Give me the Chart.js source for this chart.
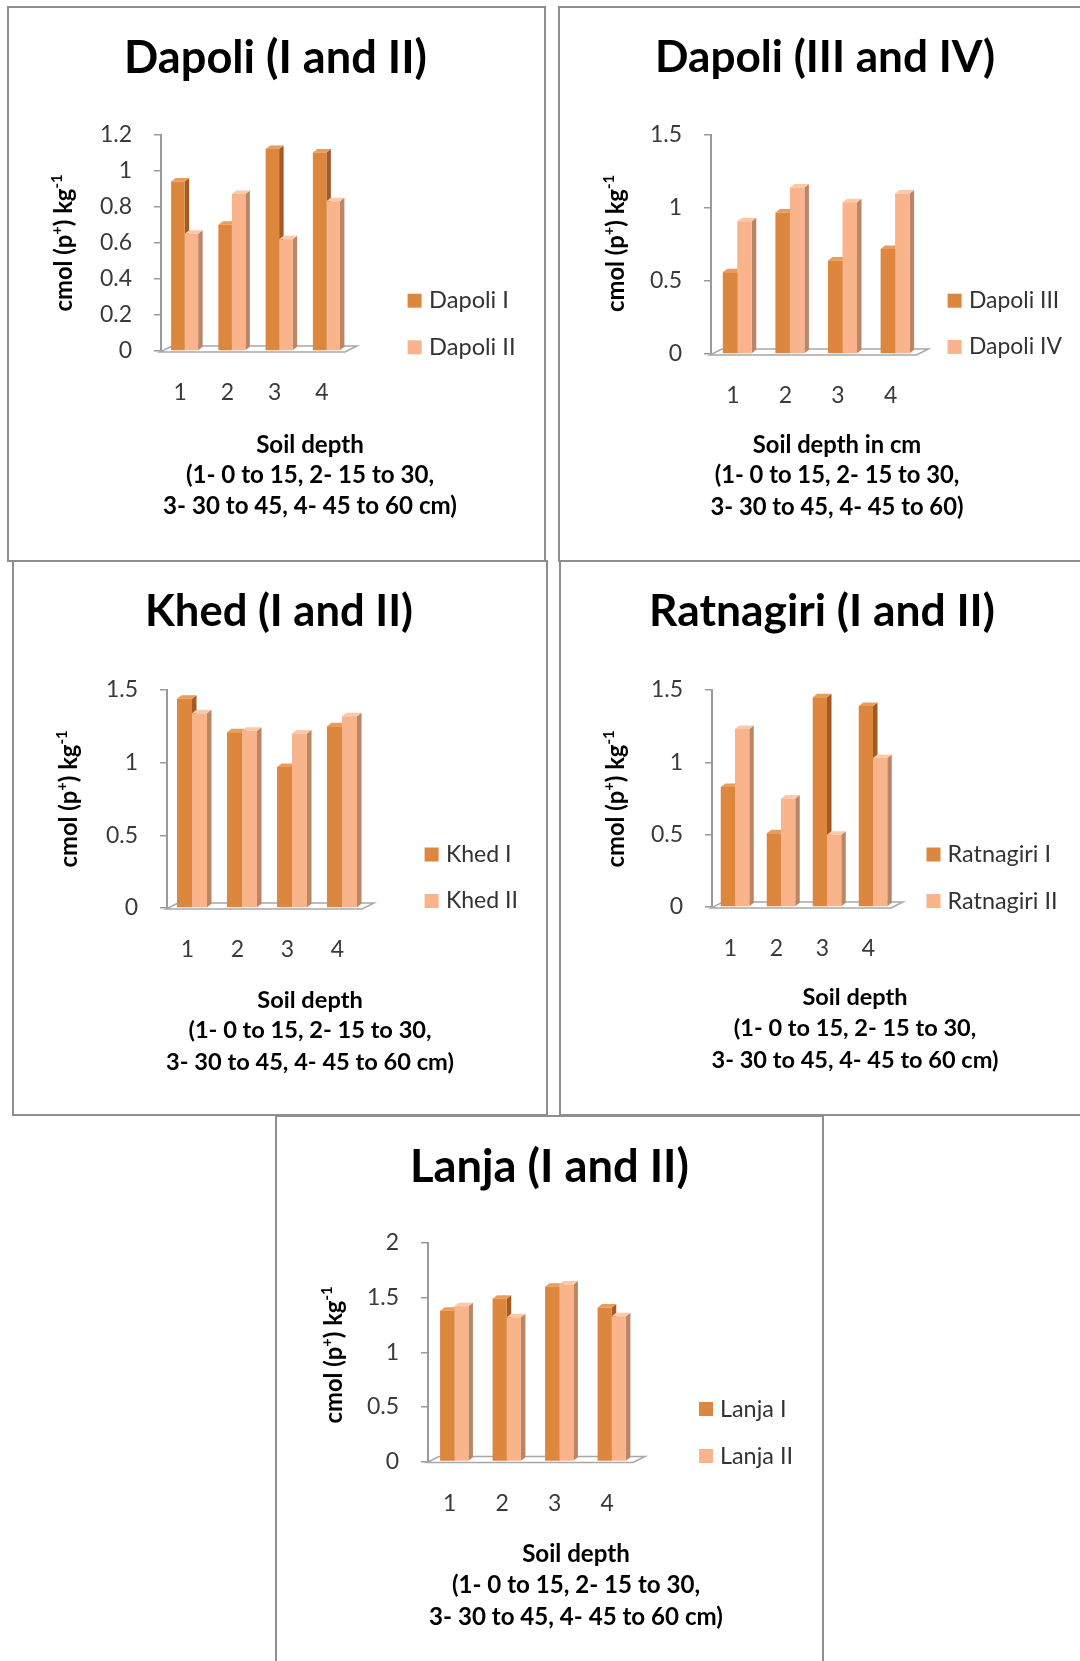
<!DOCTYPE html>
<html>
<head>
<meta charset="utf-8">
<script src="https://cdn.jsdelivr.net/npm/chart.js@4.4.1/dist/chart.umd.min.js"></script>
<style>
html,body{margin:0;padding:0;background:#fff;}
body{width:1080px;height:1661px;position:relative;overflow:hidden;}
.frame{position:absolute;box-sizing:border-box;border:2px solid #8e8e8e;pointer-events:none;}
canvas{position:absolute;}
</style>
</head>
<body>
<script>
// ---------- DATA ----------
const categories = ['1', '2', '3', '4'];
const dapoliI   = [0.94, 0.70, 1.12, 1.10];
const dapoliII  = [0.65, 0.87, 0.62, 0.83];
const dapoliIII = [0.56, 0.97, 0.64, 0.72];
const dapoliIV  = [0.91, 1.14, 1.04, 1.10];
const khedI     = [1.44, 1.21, 0.97, 1.25];
const khedII    = [1.34, 1.22, 1.20, 1.32];
const ratnagiriI  = [0.83, 0.51, 1.45, 1.39];
const ratnagiriII = [1.23, 0.75, 0.50, 1.03];
const lanjaI    = [1.38, 1.49, 1.60, 1.41];
const lanjaII   = [1.42, 1.32, 1.62, 1.33];

const yTicks12 = ['0', '0.2', '0.4', '0.6', '0.8', '1', '1.2'];
const yTicks15 = ['0', '0.5', '1', '1.5'];
const yTicks20 = ['0', '0.5', '1', '1.5', '2'];

const xTitleStd = ['Soil depth', '(1- 0 to 15, 2- 15 to 30,', '3- 30 to 45, 4- 45 to 60 cm)'];
const xTitleCm  = ['Soil depth in cm', '(1- 0 to 15, 2- 15 to 30,', '3- 30 to 45, 4- 45 to 60)'];

// ---------- STYLE ----------
const FONT = 'Lato, "Open Sans", "DejaVu Sans", sans-serif';
const DARK = {front: '#DD863D', side: '#A35A25', top: '#E99C5C'};
const LIGHT = {front: '#F9B48B', side: '#BA8666', top: '#FCCAA9'};
const DEPTH = {dx: 4.5, dy: 3.5};
const YW = 80, XH = 60;
const TICK_SIZE = 23;

const panels = [
  {title: 'Dapoli (I and II)', series: [dapoliI, dapoliII], names: ['Dapoli I', 'Dapoli II'],
   ticks: yTicks12, max: 1.2, step: 0.2, xTitle: xTitleStd,
   box: [7, 6, 539, 556], area: {l: 161, r: 350, t: 134.5, b: 351}, cat: 0.572,
   tt: {x: 275.5, y: 58, w: 303}, yt: {x: 64.5, y: 243, len: 137},
   xt: {x: 310, ys: [445, 475, 506], w: 294}, lg: {sq: 407.6, tx: 429, rows: [300.7, 347.3], w: 86.6}},
  {title: 'Dapoli (III and IV)', series: [dapoliIII, dapoliIV], names: ['Dapoli III', 'Dapoli IV'],
   ticks: yTicks15, max: 1.5, step: 0.5, xTitle: xTitleCm,
   box: [558, 6, 530, 556], area: {l: 711, r: 921.4, t: 135, b: 354}, cat: 0.551,
   tt: {x: 825, y: 58, w: 340}, yt: {x: 617, y: 243.5, len: 137},
   xt: {x: 837, ys: [445, 475, 507], w: 253}, lg: {sq: 947.6, tx: 969, rows: [300.7, 347], w: 93}},
  {title: 'Khed (I and II)', series: [khedI, khedII], names: ['Khed I', 'Khed II'],
   ticks: yTicks15, max: 1.5, step: 0.5, xTitle: xTitleStd,
   box: [12, 560, 536, 556], area: {l: 167, r: 367, t: 690, b: 908}, cat: 0.6,
   tt: {x: 279, y: 612, w: 268}, yt: {x: 70, y: 799, len: 137},
   xt: {x: 310, ys: [1000.6, 1030, 1062], w: 288}, lg: {sq: 424.6, tx: 446, rows: [854.5, 901], w: 72}},
  {title: 'Ratnagiri (I and II)', series: [ratnagiriI, ratnagiriII], names: ['Ratnagiri I', 'Ratnagiri II'],
   ticks: yTicks15, max: 1.5, step: 0.5, xTitle: xTitleStd,
   box: [559, 560, 530, 556], area: {l: 712, r: 896, t: 690, b: 907}, cat: 0.62,
   tt: {x: 822, y: 612, w: 346}, yt: {x: 617, y: 799, len: 137},
   xt: {x: 855, ys: [997, 1028, 1060], w: 287}, lg: {sq: 926.5, tx: 947.6, rows: [854.5, 901], w: 110}},
  {title: 'Lanja (I and II)', series: [lanjaI, lanjaII], names: ['Lanja I', 'Lanja II'],
   ticks: yTicks20, max: 2, step: 0.5, xTitle: xTitleStd,
   box: [275, 1115, 549, 560], area: {l: 428, r: 638, t: 1243, b: 1461.5}, cat: 0.54,
   tt: {x: 549.5, y: 1167, w: 279}, yt: {x: 334.6, y: 1355, len: 137},
   xt: {x: 576, ys: [1554, 1585, 1617], w: 294}, lg: {sq: 699, tx: 720, rows: [1409, 1456], w: 73}}
];

function fitSize(ctx, text, weight, target) {
  ctx.font = weight + ' 20px ' + FONT;
  return 20 * target / ctx.measureText(text).width;
}

// 3D side / top faces and floor, drawn before the library paints the bar fronts
const threeD = {
  id: 'threeD',
  beforeDatasetsDraw(chart) {
    const ctx = chart.ctx;
    const a = chart.chartArea;
    const {dx, dy} = DEPTH;
    ctx.save();
    // floor
    ctx.beginPath();
    ctx.moveTo(a.left - 1, a.bottom + 1);
    ctx.lineTo(a.right - 5, a.bottom + 1);
    ctx.lineTo(a.right + 7, a.bottom - 5);
    ctx.lineTo(a.left + 11, a.bottom - 5);
    ctx.closePath();
    ctx.fillStyle = '#ffffff';
    ctx.fill();
    ctx.strokeStyle = '#a8a8a8';
    ctx.lineWidth = 1.5;
    ctx.stroke();
    const metas = chart.data.datasets.map((d, i) => chart.getDatasetMeta(i));
    const n = chart.data.labels.length;
    for (let i = 0; i < n; i++) {
      metas.forEach((meta, di) => {
        const el = meta.data[i];
        if (!el) return;
        const p = el.getProps(['x', 'y', 'base', 'width'], true);
        const c = di === 0 ? DARK : LIGHT;
        const L = p.x - p.width / 2, R = p.x + p.width / 2;
        // side
        ctx.beginPath();
        ctx.moveTo(R, p.y);
        ctx.lineTo(R + dx, p.y - dy);
        ctx.lineTo(R + dx, p.base - dy);
        ctx.lineTo(R, p.base);
        ctx.closePath();
        ctx.fillStyle = c.side;
        ctx.fill();
        // top
        ctx.beginPath();
        ctx.moveTo(L, p.y);
        ctx.lineTo(L + dx, p.y - dy);
        ctx.lineTo(R + dx, p.y - dy);
        ctx.lineTo(R, p.y);
        ctx.closePath();
        ctx.fillStyle = c.top;
        ctx.fill();
      });
    }
    ctx.restore();
  }
};

// titles, axis titles, legend
const decor = {
  id: 'decor',
  afterDraw(chart) {
    const P = chart.options.plugins.decor.panel;
    const ox = P.box[0], oy = P.box[1];
    const ctx = chart.ctx;
    ctx.save();
    // chart title
    let f = fitSize(ctx, P.title, 'bold', P.tt.w);
    ctx.font = 'bold ' + f + 'px ' + FONT;
    ctx.fillStyle = '#000';
    ctx.textAlign = 'center';
    ctx.textBaseline = 'middle';
    ctx.fillText(P.title, P.tt.x - ox, P.tt.y - oy);
    // x-axis title (3 lines)
    f = fitSize(ctx, P.xTitle[2], 'bold', P.xt.w);
    ctx.font = 'bold ' + f + 'px ' + FONT;
    P.xTitle.forEach((line, k) => ctx.fillText(line, P.xt.x - ox, P.xt.ys[k] - oy));
    // y-axis title with superscripts
    const parts = [['cmol (p', false], ['+', true], [') kg', false], ['-1', true]];
    const meas = (s) => parts.reduce((acc, [t, sup]) => {
      ctx.font = 'bold ' + (sup ? s * 0.62 : s) + 'px ' + FONT;
      return acc + ctx.measureText(t).width;
    }, 0);
    const fs = 20 * P.yt.len / meas(20);
    const total = meas(fs);
    ctx.translate(P.yt.x - ox, P.yt.y - oy);
    ctx.rotate(-Math.PI / 2);
    ctx.textAlign = 'left';
    ctx.textBaseline = 'alphabetic';
    let x = -total / 2;
    const by = fs * 0.3;
    parts.forEach(([t, sup]) => {
      ctx.font = 'bold ' + (sup ? fs * 0.62 : fs) + 'px ' + FONT;
      ctx.fillText(t, x, sup ? by - fs * 0.42 : by);
      x += ctx.measureText(t).width;
    });
    ctx.setTransform(1, 0, 0, 1, 0, 0);
    // legend
    const lf = fitSize(ctx, P.names[1], 'normal', P.lg.w);
    chart.data.datasets.forEach((ds, k) => {
      const ry = P.lg.rows[k] - oy;
      ctx.fillStyle = ds.backgroundColor;
      ctx.fillRect(P.lg.sq - ox, ry - 7, 14, 14);
      ctx.fillStyle = '#333';
      ctx.font = lf + 'px ' + FONT;
      ctx.textAlign = 'left';
      ctx.textBaseline = 'middle';
      ctx.fillText(ds.label, P.lg.tx - ox, ry);
    });
    ctx.restore();
  }
};

panels.forEach((P) => {
  const [bx, by, bw, bh] = P.box;
  const cv = document.createElement('canvas');
  cv.width = bw; cv.height = bh;
  cv.style.left = bx + 'px'; cv.style.top = by + 'px';
  cv.style.width = bw + 'px'; cv.style.height = bh + 'px';
  document.body.appendChild(cv);
  const fr = document.createElement('div');
  fr.className = 'frame';
  fr.style.left = bx + 'px'; fr.style.top = by + 'px';
  fr.style.width = bw + 'px'; fr.style.height = bh + 'px';
  document.body.appendChild(fr);

  const A = P.area;
  new Chart(cv, {
    type: 'bar',
    data: {
      labels: categories,
      datasets: [
        {label: P.names[0], data: P.series[0], backgroundColor: DARK.front, borderWidth: 0},
        {label: P.names[1], data: P.series[1], backgroundColor: LIGHT.front, borderWidth: 0}
      ]
    },
    options: {
      responsive: false,
      animation: false,
      devicePixelRatio: 1,
      events: [],
      layout: {padding: {
        left: (A.l - bx) - YW,
        right: bw - (A.r - bx),
        top: A.t - by,
        bottom: bh - (A.b - by) - XH
      }},
      datasets: {bar: {categoryPercentage: P.cat, barPercentage: 1}},
      plugins: {
        legend: {display: false},
        title: {display: false},
        tooltip: {enabled: false},
        decor: {panel: P}
      },
      scales: {
        x: {
          type: 'category',
          offset: true,
          grid: {display: false},
          border: {display: false},
          ticks: {font: {family: FONT, size: TICK_SIZE}, color: '#3a3a3a', padding: 20, labelOffset: -4.5, maxRotation: 0},
          afterFit: (s) => { s.height = XH; }
        },
        y: {
          min: 0, max: P.max,
          ticks: {stepSize: P.step, font: {family: FONT, size: TICK_SIZE}, color: '#3a3a3a', padding: 22,
                  callback: (v) => P.ticks[Math.round(v / P.step)]},
          grid: {drawOnChartArea: false, drawTicks: true, tickLength: 7, color: '#9a9a9a', lineWidth: 1.5},
          border: {display: true, color: '#9a9a9a', width: 2},
          afterFit: (s) => { s.width = YW; }
        }
      }
    },
    plugins: [threeD, decor]
  });
});
</script>
</body>
</html>
